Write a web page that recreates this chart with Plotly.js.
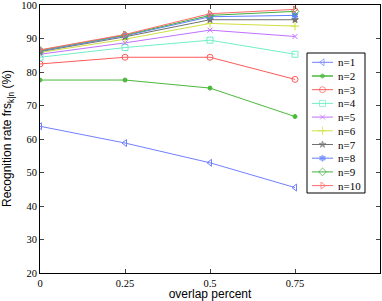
<!DOCTYPE html>
<html><head><meta charset="utf-8">
<script src="https://cdn.plot.ly/plotly-3.0.1.min.js"></script>
<style>html,body{margin:0;padding:0;background:#fff;}#c{width:382px;height:301px;}</style>
</head><body><div id="c"></div>
<script>
const overlap = [0, 0.25, 0.5, 0.75];
const seriesNames = ['n=1','n=2','n=3','n=4','n=5','n=6','n=7','n=8','n=9','n=10'];
const n1 = [63.8, 58.8, 52.9, 45.5];
const n2 = [77.6, 77.6, 75.2, 66.7];
const n3 = [82.4, 84.4, 84.4, 77.8];
const n4 = [84.4, 87.3, 89.5, 85.3];
const n5 = [85.3, 88.7, 92.5, 90.6];
const n6 = [85.8, 89.8, 94.5, 93.7];
const n7 = [86.1, 90.5, 95.6, 95.6];
const n8 = [86.3, 90.8, 96.5, 96.9];
const n9 = [86.5, 91.0, 96.9, 98.1];
const n10 = [86.6, 91.2, 97.4, 98.7];
const yTicks = [20,30,40,50,60,70,80,90,100];
const xTicks = [0, 0.25, 0.5, 0.75];
const xTickLabels = ['0','0.25','0.5','0.75'];

const values = [n1,n2,n3,n4,n5,n6,n7,n8,n9,n10];
const colors = ['#7080ff','#4cb83c','#ff5a5a','#70f0c8','#c070ff','#d0e040','#707070','#6080ff','#40b040','#ff6a6a'];
const symbols = ['triangle-left-open','circle','circle-open','square-open','x-thin','cross-thin','star','hexagram','diamond-open','triangle-right-open'];
const sizes = [6,4,6,6,5,6,5,5,6,6];

const traces = values.map((v,i)=>({
  x: overlap, y: v, name: seriesNames[i], type:'scatter', mode:'lines+markers', showlegend:false,
  line:{color:colors[i], width:1},
  marker:{symbol:symbols[i], size:sizes[i], color:colors[i], line:{color:colors[i], width:1}}
}));

// hand-built compact legend on an overlay axis measured in pixels
const legX0 = 307, legX1 = 365, legY0 = 53, legY1 = 193;
const rowTop = 62.3, rowStep = 13.7;
const annotations = [];
values.forEach((v,i)=>{
  const ry = rowTop + rowStep*i;
  traces.push({
    x:[312, 322.5, 333], y:[ry, ry, ry], xaxis:'x2', yaxis:'y2', type:'scatter', mode:'lines+markers',
    showlegend:false, hoverinfo:'skip',
    line:{color:colors[i], width: i===1 ? 1.5 : 1},
    marker:{symbol:symbols[i], size:[0, sizes[i], 0], color:colors[i], line:{color:colors[i], width:1}}
  });
  annotations.push({xref:'x2', yref:'y2', x:336, y:ry, xanchor:'left', yanchor:'middle', showarrow:false,
    text:seriesNames[i], font:{family:'Liberation Serif', size:11, color:'#000'}});
});
annotations.push({xref:'paper', yref:'paper', x:(8-40)/340, y:0.5, xanchor:'center', yanchor:'middle',
  showarrow:false, textangle:-90, text:'Recognition rate frs<sub>k|n</sub> (%)',
  font:{family:'Liberation Sans', size:12, color:'#000'}});

const layout = {
  width:382, height:301,
  margin:{l:40, r:2, t:5, b:28},
  paper_bgcolor:'#fff', plot_bgcolor:'#fff',
  showlegend:false,
  annotations: annotations,
  shapes:[{type:'rect', xref:'x2', yref:'y2', x0:legX0, x1:legX1, y0:legY0, y1:legY1,
    line:{color:'#000', width:1}, fillcolor:'rgba(0,0,0,0)', layer:'above'}],
  xaxis:{range:[0,1], tickvals:xTicks, ticktext:xTickLabels, ticks:'inside', ticklen:4, mirror:'ticks',
    showline:true, linecolor:'#000', linewidth:1, showgrid:false, zeroline:false, ticklabeloverflow:'allow',
    tickfont:{family:'Liberation Serif', size:10.5, color:'#000'},
    title:{text:'overlap percent', font:{family:'Liberation Sans', size:12, color:'#000'}, standoff:6}},
  yaxis:{range:[20,100], tickvals:yTicks, ticks:'inside', ticklen:4, mirror:'ticks',
    showline:true, linecolor:'#000', linewidth:1, showgrid:false, zeroline:false, ticklabeloverflow:'allow',
    tickfont:{family:'Liberation Serif', size:10.5, color:'#000'}},
  xaxis2:{overlaying:'x', range:[40,380], visible:false, fixedrange:true, anchor:'y2'},
  yaxis2:{overlaying:'y', range:[273,5], visible:false, fixedrange:true, anchor:'x2'}
};
Plotly.newPlot('c', traces, layout, {displayModeBar:false, staticPlot:true});
</script></body></html>
